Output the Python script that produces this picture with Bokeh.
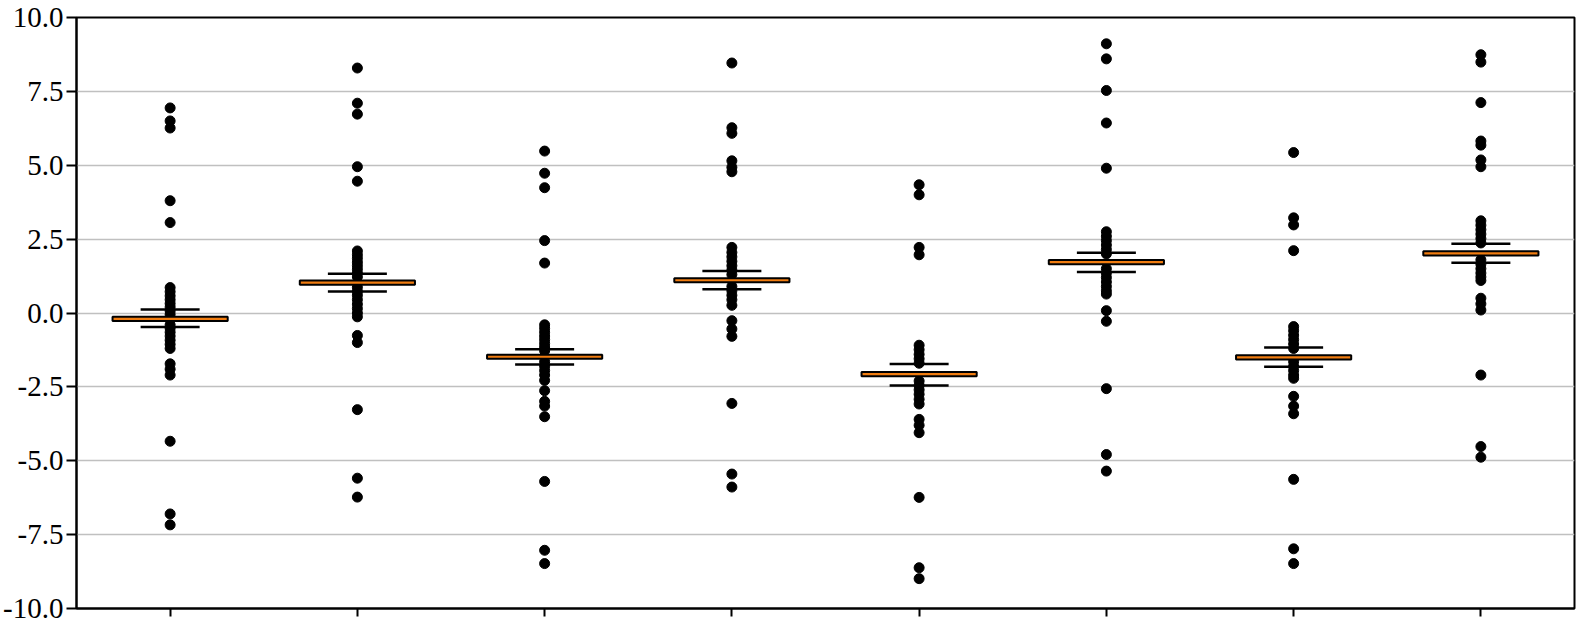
from bokeh.plotting import figure
from bokeh.models import FixedTicker, PrintfTickFormatter, Range1d
from bokeh.embed import file_html
from bokeh.resources import INLINE

groups = [1, 2, 3, 4, 5, 6, 7, 8]
medians = [-0.20, 1.03, -1.48, 1.11, -2.07, 1.72, -1.50, 2.02]
q3 = [-0.13, 1.10, -1.41, 1.18, -2.00, 1.79, -1.43, 2.09]
q1 = [-0.27, 0.96, -1.55, 1.04, -2.14, 1.65, -1.57, 1.95]
upper_caps = [0.12, 1.33, -1.23, 1.42, -1.73, 2.04, -1.17, 2.34]
lower_caps = [-0.47, 0.73, -1.74, 0.80, -2.45, 1.39, -1.82, 1.70]

g1_points = [6.94, 6.50, 6.26, 3.80, 3.06, 0.86, 0.72, 0.58, 0.45, 0.32, 0.20, 0.07, -0.05,
             -0.40, -0.52, -0.65, -0.78, -0.92, -1.06, -1.20, -1.72, -1.90, -2.10,
             -4.34, -6.80, -7.17]
g2_points = [8.29, 7.10, 6.73, 4.95, 4.46, 2.10, 1.97, 1.85, 1.72, 1.60, 1.48, 1.35, 1.22,
             0.87, 0.73, 0.60, 0.45, 0.30, 0.15, 0.00, -0.13, -0.76, -1.00,
             -3.27, -5.59, -6.23]
g3_points = [5.48, 4.73, 4.24, 2.45, 1.69, -0.40, -0.52, -0.65, -0.78, -0.90, -1.03, -1.15,
             -1.28, -1.65, -1.80, -1.95, -2.10, -2.28, -2.63, -2.99, -3.15, -3.51,
             -5.70, -8.03, -8.48]
g4_points = [8.46, 6.27, 6.08, 5.15, 4.93, 4.78, 2.22, 2.05, 1.90, 1.75, 1.60, 1.45, 1.30,
             0.90, 0.75, 0.60, 0.45, 0.26, -0.26, -0.54, -0.79, -3.06, -5.45, -5.89]
g5_points = [4.34, 4.00, 2.22, 1.97, -1.09, -1.24, -1.40, -1.55, -1.70, -2.30, -2.45, -2.60,
             -2.75, -2.92, -3.08, -3.60, -3.80, -4.05, -6.24, -8.62, -8.99]
g6_points = [9.11, 8.60, 7.53, 6.43, 4.90, 2.75, 2.60, 2.45, 2.30, 2.15, 2.00, 1.50, 1.35,
             1.20, 1.05, 0.90, 0.75, 0.64, 0.08, -0.28, -2.56, -4.79, -5.35]
g7_points = [5.43, 3.22, 2.98, 2.11, -0.46, -0.60, -0.75, -0.90, -1.05, -1.20, -1.65, -1.80,
             -1.95, -2.10, -2.21, -2.82, -3.15, -3.41, -5.63, -7.98, -8.48]
g8_points = [8.74, 8.49, 7.12, 5.82, 5.68, 5.18, 4.95, 3.12, 2.97, 2.82, 2.67, 2.52, 2.37,
             1.80, 1.65, 1.50, 1.35, 1.22, 1.10, 0.50, 0.31, 0.10, -2.10, -4.52, -4.88]

y_ticks = [-10.0, -7.5, -5.0, -2.5, 0.0, 2.5, 5.0, 7.5, 10.0]

all_points = [g1_points, g2_points, g3_points, g4_points,
              g5_points, g6_points, g7_points, g8_points]
xs, ys = [], []
for g, pts in zip(groups, all_points):
    xs.extend([g] * len(pts))
    ys.extend(pts)

p = figure(frame_width=1498, frame_height=591, output_backend="svg",
           toolbar_location=None, x_range=Range1d(0.5, 8.5), y_range=Range1d(-10, 10),
           min_border_left=75, min_border_right=5, min_border_top=17, min_border_bottom=16)

p.background_fill_color = "white"
p.border_fill_color = "white"
p.outline_line_color = "black"
p.outline_line_width = 2
p.outline_line_alpha = 1

p.xgrid.visible = False
p.ygrid.grid_line_color = "#c0c0c0"
p.ygrid.grid_line_width = 1.5
p.ygrid.ticker = FixedTicker(ticks=y_ticks)

p.yaxis.ticker = FixedTicker(ticks=y_ticks)
p.yaxis.formatter = PrintfTickFormatter(format="%.1f")
p.yaxis.major_label_text_font = "Liberation Serif"
p.yaxis.major_label_text_font_size = "29px"
p.yaxis.major_label_text_color = "black"
p.yaxis.major_label_standoff = 3
p.yaxis.major_tick_out = 10
p.yaxis.major_tick_in = 0
p.yaxis.minor_tick_line_color = None
p.yaxis.axis_line_width = 2
p.yaxis.major_tick_line_width = 2
p.yaxis.axis_line_color = "black"

p.xaxis.ticker = FixedTicker(ticks=groups)
p.xaxis.major_label_overrides = {g: "" for g in groups}
p.xaxis.major_tick_out = 8
p.xaxis.major_tick_in = 0
p.xaxis.minor_tick_line_color = None
p.xaxis.axis_line_width = 2
p.xaxis.major_tick_line_width = 2
p.xaxis.major_label_standoff = 0
p.xaxis.axis_line_color = "black"

p.scatter(x=xs, y=ys, size=10, color="black", marker="circle")

p.vbar(x=groups, width=0.615, bottom=q1, top=q3, fill_color="#f07c10",
       line_color="black", line_width=2)
p.scatter(x=groups, y=upper_caps, marker="dash", size=59, line_width=2.5, line_color="black")
p.scatter(x=groups, y=lower_caps, marker="dash", size=59, line_width=2.5, line_color="black")

open("out.html", "w").write(file_html(p, INLINE))
